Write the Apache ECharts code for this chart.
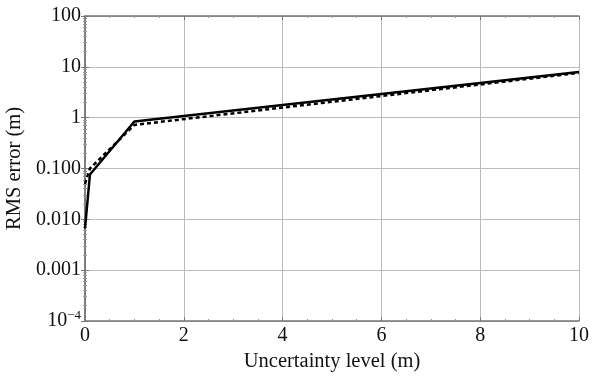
<!DOCTYPE html>
<html>
<head>
<meta charset="utf-8">
<script src="https://cdn.jsdelivr.net/npm/echarts@6/dist/echarts.min.js"></script>
<style>html,body{margin:0;padding:0;background:#fff;}#c{width:592px;height:378px;}</style>
</head>
<body>
<div id="c"></div>
<script>
const xValues = [0, 0.1, 1, 10];
const solidValues = [0.0066, 0.076, 0.84, 7.9];
const dashedValues = [0.05, 0.1, 0.72, 7.6];
const yTickLabels = {"2": "100", "1": "10", "0": "1", "-1": "0.100", "-2": "0.010", "-3": "0.001", "-4": "{b|10}{s|−4}"};
const xTitle = "Uncertainty level (m)";
const yTitle = "RMS error (m)";

const font = "Liberation Serif";
const chart = echarts.init(document.getElementById('c'));
const toPairs = (xs, ys) => xs.map((x, i) => [x, ys[i]]);
chart.setOption({
  animation: false,
  grid: {left: 85, right: 13, top: 16, bottom: 57, containLabel: false, outerBoundsMode: 'none'},
  xAxis: [{
    type: 'value', min: 0, max: 10, interval: 2,
    name: xTitle, nameLocation: 'middle', nameGap: 27,
    nameTextStyle: {fontFamily: font, fontSize: 20.5, color: '#111'},
    axisLine: {onZero: false, lineStyle: {color: '#777', width: 1.5}},
    axisTick: {inside: true, length: 4, lineStyle: {color: '#777'}},
    minorTick: {show: true, splitNumber: 4, length: 2, lineStyle: {color: '#999'}},
    axisLabel: {fontFamily: font, fontSize: 20, color: '#111', margin: 5},
    splitLine: {show: true, lineStyle: {color: '#bbb', width: 1}}
  }, {
    type: 'value', min: 0, max: 10, interval: 2, position: 'top',
    axisLine: {show: true, lineStyle: {color: '#777', width: 1.5}},
    axisTick: {inside: true, length: 4, lineStyle: {color: '#777'}},
    minorTick: {show: true, splitNumber: 4, length: 2, lineStyle: {color: '#999'}},
    axisLabel: {show: false}, splitLine: {show: false}
  }],
  yAxis: [{
    type: 'log', logBase: 10, min: 0.0001, max: 100,
    name: yTitle, nameLocation: 'middle', nameGap: 56,
    nameTextStyle: {fontFamily: font, fontSize: 20.5, color: '#111'},
    axisLine: {show: true, lineStyle: {color: '#777', width: 1.5}},
    axisTick: {inside: true, length: 4, lineStyle: {color: '#777'}},
    minorTick: {show: true, splitNumber: 9, length: 2, lineStyle: {color: '#999'}},
    axisLabel: {
      fontFamily: font, fontSize: 20, color: '#111', margin: 4,
      formatter: v => yTickLabels[String(Math.round(Math.log10(v)))] || '',
      rich: {b: {fontFamily: font, fontSize: 20, color: '#111'}, s: {fontFamily: font, fontSize: 13, color: '#111', verticalAlign: 'top', padding: [0, 0, 10, 0]}}
    },
    splitLine: {show: true, lineStyle: {color: '#bbb', width: 1}}
  }, {
    type: 'log', logBase: 10, min: 0.0001, max: 100, position: 'right',
    axisLine: {show: true, lineStyle: {color: '#777', width: 1.5}},
    axisTick: {inside: true, length: 4, lineStyle: {color: '#777'}},
    minorTick: {show: true, splitNumber: 9, length: 2, lineStyle: {color: '#999'}},
    axisLabel: {show: false}, splitLine: {show: false}
  }],
  series: [{
    type: 'line', data: toPairs(xValues, dashedValues), showSymbol: false,
    lineStyle: {color: '#000', width: 2.5, type: [4, 3]}
  }, {
    type: 'line', data: toPairs(xValues, solidValues), showSymbol: false,
    lineStyle: {color: '#000', width: 2.5}
  }]
});
</script>
</body>
</html>
